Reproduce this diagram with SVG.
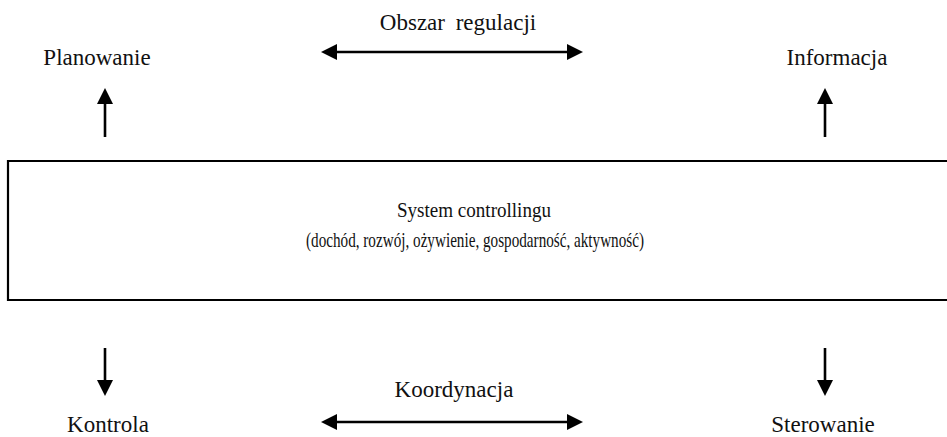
<svg xmlns="http://www.w3.org/2000/svg" width="947" height="437" viewBox="0 0 947 437">
  <style>
    .lbl { font-family: "Liberation Serif", "Times New Roman", serif; font-size: 23px; fill: #111; text-anchor: middle; }
    .box-t { font-family: "Liberation Serif", "Times New Roman", serif; font-size: 21px; fill: #111; text-anchor: middle; }
    .conn { stroke: #000; stroke-width: 2.6; fill: none; }
    .frame { stroke: #000; stroke-width: 2.2; fill: none; }
  </style>
  <defs>
    <marker id="ah" viewBox="0 0 16 16" refX="8" refY="8" markerWidth="16" markerHeight="16" markerUnits="userSpaceOnUse" orient="auto-start-reverse">
      <path d="M0,0 L16,8 L0,16 z" fill="#000"/>
    </marker>
  </defs>
  <rect width="947" height="437" fill="#fff"/>

  <g id="system">
    <path class="frame" d="M947,161 H8 V300 H947"/>
    <text class="box-t" x="474" y="217" textLength="154" lengthAdjust="spacingAndGlyphs">System controllingu</text>
    <text class="box-t" x="475" y="247" textLength="338" lengthAdjust="spacingAndGlyphs">(dochód, rozwój, ożywienie, gospodarność, aktywność)</text>
  </g>

  <g id="planowanie"><text class="lbl" x="97" y="65">Planowanie</text></g>
  <g id="informacja"><text class="lbl" x="837" y="65">Informacja</text></g>
  <g id="obszar"><text class="lbl" x="458" y="30" word-spacing="5">Obszar regulacji</text></g>
  <g id="kontrola"><text class="lbl" x="108" y="432">Kontrola</text></g>
  <g id="koordynacja"><text class="lbl" x="454" y="397">Koordynacja</text></g>
  <g id="sterowanie"><text class="lbl" x="823" y="432">Sterowanie</text></g>

  <g id="connectors">
    <line class="conn" x1="105" y1="137" x2="105" y2="96" marker-end="url(#ah)"/>
    <line class="conn" x1="825" y1="137" x2="825" y2="96" marker-end="url(#ah)"/>
    <line class="conn" x1="105" y1="348" x2="105" y2="388" marker-end="url(#ah)"/>
    <line class="conn" x1="825" y1="348" x2="825" y2="388" marker-end="url(#ah)"/>
    <line class="conn" x1="329" y1="52" x2="575" y2="52" marker-start="url(#ah)" marker-end="url(#ah)"/>
    <line class="conn" x1="329" y1="422" x2="575" y2="422" marker-start="url(#ah)" marker-end="url(#ah)"/>
  </g>
</svg>
